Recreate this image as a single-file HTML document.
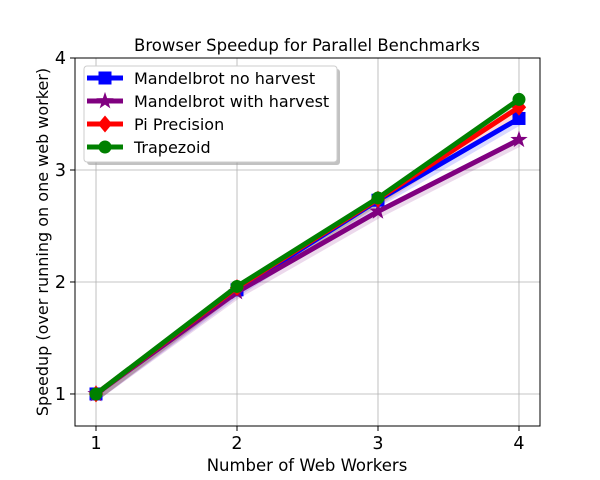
<!DOCTYPE html>
<html><head><meta charset="utf-8"><style>
body{margin:0;background:#fff;}
svg{display:block;font-family:"DejaVu Sans","Liberation Sans",sans-serif;}
</style></head><body>
<svg id="chart" width="600" height="480" viewBox="0 0 600 480">
<rect width="600" height="480" fill="#fff"/>
<g id="grid"></g>
<g id="bands"></g>
<g id="series"></g>
<rect x="75" y="58" width="465" height="368" fill="none" stroke="#000" stroke-width="1"/>
<g id="ticks"></g>
<text x="307" y="51" font-size="16.5" text-anchor="middle">Browser Speedup for Parallel Benchmarks</text>
<text x="307" y="471" font-size="16.5" text-anchor="middle">Number of Web Workers</text>
<text transform="translate(48,242) rotate(-90)" font-size="16" text-anchor="middle">Speedup (over running on one web worker)</text>
<g id="legend"></g>
</svg>
<script>
const workers=[1,2,3,4];
const noHarvest=[1,1.93,2.73,3.46];
const withHarvest=[1,1.91,2.63,3.27];
const piPrecision=[1,1.95,2.74,3.56];
const trapezoid=[1,1.96,2.75,3.63];
const seriesNames=["Mandelbrot no harvest","Mandelbrot with harvest","Pi Precision","Trapezoid"];
const xTicks=[1,2,3,4];
const yTicks=[1,2,3,4];
const NS="http://www.w3.org/2000/svg";
const X0=75,X1=540,Y0=426,Y1=58,xmin=0.851,xmax=4.149,ymin=0.714,ymax=4;
const sx=v=>X0+(v-xmin)/(xmax-xmin)*(X1-X0);
const sy=v=>Y0-(v-ymin)/(ymax-ymin)*(Y0-Y1);
function mk(t,a,p){const e=document.createElementNS(NS,t);for(const k in a)e.setAttribute(k,a[k]);p.appendChild(e);return e;}
const grid=document.getElementById('grid'),ticks=document.getElementById('ticks');
xTicks.forEach(v=>{
 const g=mk('line',{x1:sx(v),x2:sx(v),y1:Y1,y2:Y0,stroke:'#b0b0b0','stroke-width':0.8},grid);
 
 mk('line',{x1:sx(v),x2:sx(v),y1:Y0,y2:Y0+5,stroke:'#000'},ticks);
 const t=mk('text',{x:sx(v),y:Y0+23,'font-size':17.5,'text-anchor':'middle'},ticks);t.textContent=v;
 
});
yTicks.forEach(v=>{
 const g=mk('line',{x1:X0,x2:X1,y1:sy(v),y2:sy(v),stroke:'#b0b0b0','stroke-width':0.8},grid);
 
 mk('line',{x1:X0-5,x2:X0,y1:sy(v),y2:sy(v),stroke:'#000'},ticks);
 const t=mk('text',{x:X0-9,y:sy(v)+6,'font-size':17.5,'text-anchor':'end'},ticks);t.textContent=v;
 
});
const data=[noHarvest,withHarvest,piPrecision,trapezoid];
const colors=['#0000ff','#800080','#ff0000','#008000'];
const markers=['square','star','diamond','circle'];
function marker(type,x,y,c,p,s){
 let e;
 if(type==='square')e=mk('rect',{x:x-s,y:y-s,width:2*s,height:2*s,fill:c},p);
 else if(type==='circle')e=mk('circle',{cx:x,cy:y,r:s,fill:c},p);
 else if(type==='diamond')e=mk('polygon',{points:`${x},${y-s*1.3} ${x+s*1.1},${y} ${x},${y+s*1.3} ${x-s*1.1},${y}`,fill:c},p);
 else{let pts=[];for(let i=0;i<10;i++){const r=i%2?s*0.55:s*1.4;const a=-Math.PI/2+i*Math.PI/5;pts.push((x+r*Math.cos(a))+','+(y+r*Math.sin(a)));}
  e=mk('polygon',{points:pts.join(' '),fill:c},p);}
 return e;
}
const sg=document.getElementById('series'),bg=document.getElementById('bands');
data.forEach((d,i)=>{
 const band=mk('polyline',{points:d.map((v,j)=>sx(workers[j])+','+(sy(v)+3)).join(' '),fill:'none',stroke:colors[i],'stroke-opacity':0.15,'stroke-width':8},bg);
 
 const g=mk('g',{},sg);
 
 
 mk('polyline',{points:d.map((v,j)=>sx(workers[j])+','+sy(v)).join(' '),fill:'none',stroke:colors[i],'stroke-width':5},g);
 d.forEach((v,j)=>{const m=marker(markers[i],sx(workers[j]),sy(v),colors[i],g,6.5);
  });
});
const lg=document.getElementById('legend');
mk('rect',{x:87,y:69,width:253,height:96,rx:3,fill:'#999','fill-opacity':0.6},lg);
mk('rect',{x:84,y:66,width:253,height:96,rx:3,fill:'#fff',stroke:'#ccc'},lg);
seriesNames.forEach((n,i)=>{
 const y=78+i*23;
 const e=mk('g',{},lg);
 
 mk('line',{x1:87,x2:123,y1:y,y2:y,stroke:colors[i],'stroke-width':5},e);
 marker(markers[i],105,y,colors[i],e,6.5);
 const t=mk('text',{x:134,y:y+6,'font-size':16},e);t.textContent=n;
});
</script>
</body></html>
